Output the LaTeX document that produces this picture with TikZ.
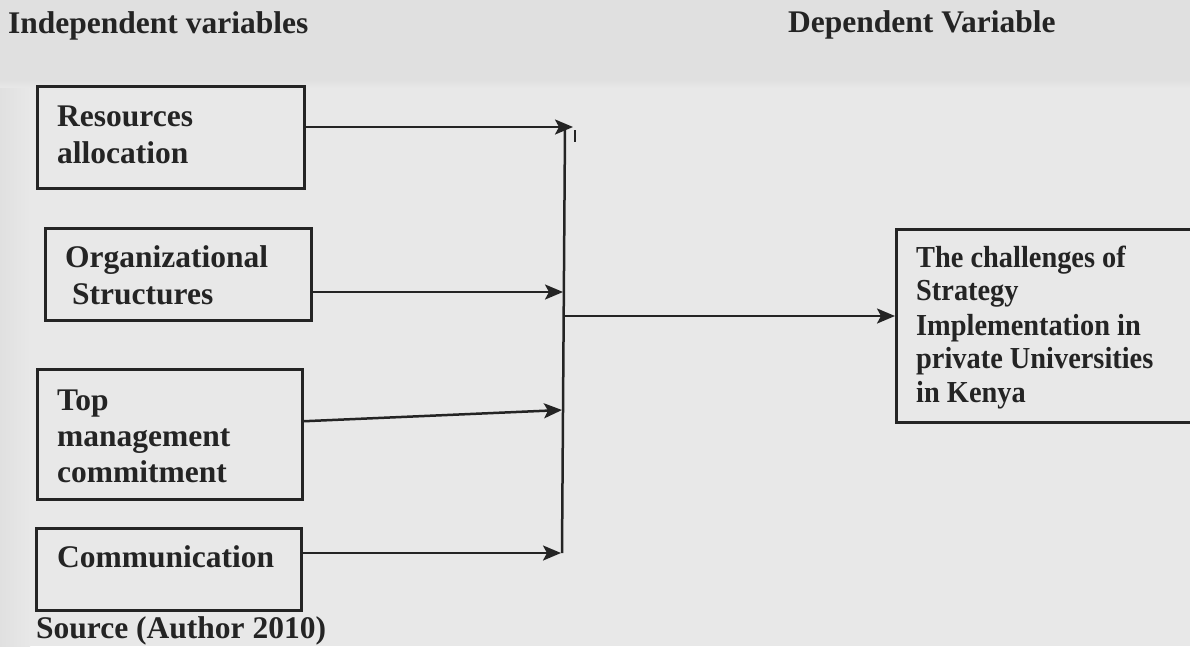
\documentclass[tikz,border=0pt]{standalone}
\usepackage{fontspec}
\setmainfont{Liberation Serif}
\newfontfamily\narrowserif[FakeStretch=0.93]{Liberation Serif}
\usetikzlibrary{arrows.meta}
\definecolor{paper}{RGB}{232,232,232}
\definecolor{paperdark}{RGB}{224,224,224}
\definecolor{ink}{RGB}{36,36,36}
\begin{document}
\begin{tikzpicture}[x=1pt,y=-1pt,
  box/.style={draw=ink, line width=2.5pt, rectangle, inner sep=0pt, anchor=north west},
  lbl/.style={anchor=base west, inner sep=0pt, text=ink, font=\bfseries\fontsize{31.5}{37}\selectfont},
  rlbl/.style={anchor=base west, inner sep=0pt, text=ink, font=\narrowserif\bfseries\fontsize{30.5}{34}\selectfont},
  conn/.style={draw=ink, line width=2.5pt},
  arr/.style={conn, -{Stealth[length=18pt,width=15pt,inset=4pt]}}]

\useasboundingbox (0,0) rectangle (1190,646);
\clip (0,0) rectangle (1190,646);

% paper
\fill[paper] (0,0) rectangle (1190,646);
\shade[top color=paperdark, bottom color=paperdark] (0,0) rectangle (1190,80);
\shade[top color=paperdark, bottom color=paper] (0,80) rectangle (1190,88);
\shade[left color=paperdark, right color=paper] (0,88) rectangle (30,646);

% column headings
\node[lbl] (hind) at (8,33) {Independent variables};
\node[lbl] (hdep) at (788,32) {Dependent Variable};

% independent variable boxes
\node[box, minimum width=267pt, minimum height=102pt] (b1) at (36,85) {};
\node[lbl] (t1a) at (57,126) {Resources};
\node[lbl] (t1b) at (57,163) {allocation};

\node[box, minimum width=266pt, minimum height=92pt] (b2) at (44,227) {};
\node[lbl] (t2a) at (65,267) {Organizational};
\node[lbl] (t2b) at (72,304) {Structures};

\node[box, minimum width=265pt, minimum height=130pt] (b3) at (36,368) {};
\node[lbl] (t3a) at (57,410) {Top};
\node[lbl] (t3b) at (57,446) {management};
\node[lbl] (t3c) at (57,482) {commitment};

\node[box, minimum width=265pt, minimum height=82pt] (b4) at (35,527) {};
\node[lbl] (t4a) at (57,567) {Communication};

\node[lbl] (src) at (36,638) {Source (Author 2010)};

% dependent variable box
\node[box, minimum width=305pt, minimum height=193pt] (b5) at (895,228) {};
\node[rlbl] (t5a) at (916,267) {The challenges of};
\node[rlbl] (t5b) at (916,300) {Strategy};
\node[rlbl] (t5c) at (916,335) {Implementation in};
\node[rlbl] (t5d) at (916,368) {private Universities};
\node[rlbl] (t5e) at (916,402) {in Kenya};

% collecting line
\coordinate (bt) at (565,128);
\coordinate (bb) at (562,553);
\coordinate (j1) at (573,127);
\coordinate (j2) at (563,292);
\coordinate (j3) at (562,410);
\coordinate (j4) at (561,553);
\coordinate (m)  at (564,316);

\draw[conn] (bt) -- (bb);
\draw[arr] (b1.east |- j1) -- (j1);
\draw[arr] (b2.east |- j2) -- (j2);
\draw[arr] ([yshift=13pt]b3.east) -- (j3);
\draw[arr] (b4.east |- j4) -- (j4);
\draw[arr] (m) -- (b5.west |- m);

% small tick beside the top arrow
\draw[ink, line width=1.8pt] (575,130) -- (575,142);
\end{tikzpicture}
\end{document}
